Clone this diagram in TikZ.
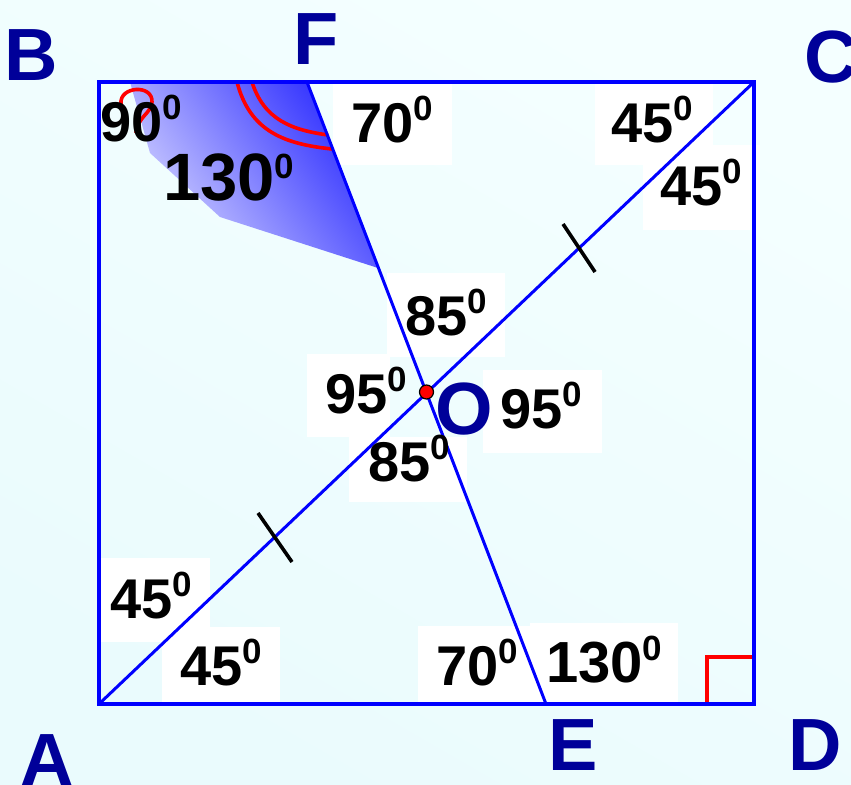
\documentclass[tikz,border=0pt]{standalone}
\usepackage{fontspec}
\setmainfont{Liberation Sans}
\definecolor{bgA}{RGB}{244,255,255}
\definecolor{bgB}{RGB}{234,251,253}
\definecolor{lineblue}{RGB}{0,0,255}
\definecolor{ltrblue}{RGB}{0,0,153}
\definecolor{shdark}{RGB}{45,45,255}
\definecolor{shlight}{RGB}{215,215,255}
\definecolor{markred}{RGB}{255,0,0}
\newcommand\dg[2][56]{{\fontsize{#1bp}{#1bp}\selectfont\bfseries #2}\raisebox{22bp}{\fontsize{35bp}{35bp}\selectfont\bfseries 0}}
\tikzset{
  lbl/.style={anchor=base west, inner sep=0pt, text=black},
  ltr/.style={anchor=base west, inner sep=0pt, text=ltrblue, font=\fontsize{74bp}{74bp}\selectfont\bfseries},
  wbox/.style={fill=white},
  side/.style={draw=lineblue, line width=3.6bp},
  seg/.style={draw=lineblue, line width=3bp},
  redmark/.style={draw=markred, line width=3.6bp},
  tickmark/.style={draw=black, line width=3.6bp}
}
\begin{document}
\begin{tikzpicture}[x=1bp,y=-1bp]
\useasboundingbox (0,0) rectangle (851,785);
\shade[top color=bgA, bottom color=bgB, shading angle=-30] (0,0) rectangle (851,785);
% points
\coordinate (A) at (99,704);
\coordinate (B) at (99,82);
\coordinate (C) at (754,82);
\coordinate (D) at (754,704);
\coordinate (E) at (546,704);
\coordinate (F) at (307,82);
\coordinate (O) at (426.5,392);
% white label boxes
\fill[wbox] (333,84) rectangle (452,165);
\fill[wbox] (595,84) rectangle (713,165);
\fill[wbox] (643,145) rectangle (760,230);
\fill[wbox] (387,273) rectangle (505,357);
\fill[wbox] (307,354) rectangle (390,437);
\fill[wbox] (483,370) rectangle (602,453);
\fill[wbox] (349,437) rectangle (467,502);
\fill[wbox] (99,558) rectangle (210,642);
\fill[wbox] (162,627) rectangle (280,704);
\fill[wbox] (418,626) rectangle (530,704);
\fill[wbox] (530,623) rectangle (678,704);
% shaded angle region
\shade[top color=shdark, bottom color=shlight, shading angle=-55]
  (130,82) -- (150,153) -- (220,217) -- (378,268) -- (F) -- cycle;
% red marks
\draw[redmark] (237,82) .. controls (250,132) and (285,144) .. (332,149);
\draw[redmark] (252,82) .. controls (264,120) and (292,130) .. (328,135);
\draw[redmark] (121,104) .. controls (119,86) and (153,84) .. (152,102)
  .. controls (151,114) and (138,116) .. (136,133);
\draw[redmark] (707,706) -- (707,657) -- (752,657);
% lines
\draw[side] (A) -- (B) -- (C) -- (D) -- cycle;
\draw[seg] (A) -- (C);
\draw[seg] (F) -- (E);
% equal-length ticks
\draw[tickmark] (563,224) -- (595,272);
\draw[tickmark] (258,513) -- (292,562);
% centre point
\fill[markred, draw=black, line width=1.2bp] (O) circle[radius=7];
% point letters
\node[ltr] (lB) at (4.5,81) {B};
\node[ltr] (lF) at (293,65) {F};
\node[ltr] (lC) at (804,83) {C};
\node[ltr] (lA) at (20,785) {A};
\node[ltr] (lE) at (548,770) {E};
\node[ltr] (lD) at (788,770) {D};
\node[ltr] (lO) at (435,434) {O};
% angle labels
\node[lbl] (a90) at (100,141) {\dg{90}};
\node[lbl] (a130t) at (163,200) {\dg[67]{130}};
\node[lbl] (a70t) at (351,142) {\dg{70}};
\node[lbl] (a45t) at (611,142) {\dg{45}};
\node[lbl] (a45r) at (660,205) {\dg{45}};
\node[lbl] (a85t) at (405,335) {\dg{85}};
\node[lbl] (a95l) at (325,413) {\dg{95}};
\node[lbl] (a95r) at (500,428) {\dg{95}};
\node[lbl] (a85b) at (368,481) {\dg{85}};
\node[lbl] (a45l) at (110,618) {\dg{45}};
\node[lbl] (a45b) at (180,685) {\dg{45}};
\node[lbl] (a70b) at (436,685) {\dg{70}};
\node[lbl] (a130b) at (546,682) {\dg[58]{130}};
\end{tikzpicture}
\end{document}
